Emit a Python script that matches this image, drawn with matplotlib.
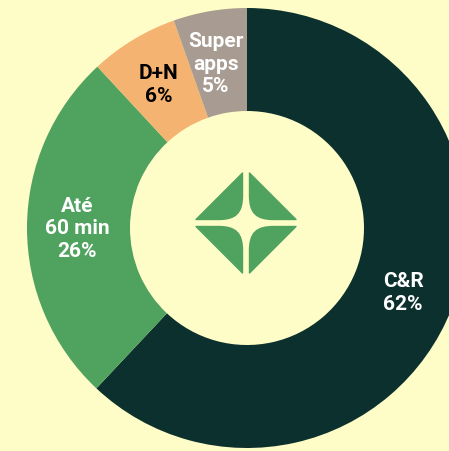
import matplotlib.pyplot as plt
from matplotlib.patches import PathPatch
from matplotlib.path import Path

# values, labels as printed
segments = ["C&R", "Até 60 min", "D+N", "Super apps"]
values = [62.0, 26.1, 6.5, 5.4]
colors = ["#0C302D", "#50A25F", "#F4B370", "#A89B91"]
labels = ["C&R\n62%", "Até\n60 min\n26%", "D+N\n6%", "Super\napps\n5%"]
label_colors = ["white", "white", "black", "white"]
label_x = [403, 77, 159, 216]
label_y = [293, 229, 85, 64]

bg = "#FFFDC7"
H = 451

fig = plt.figure(figsize=(4.49, 4.51), dpi=100, facecolor=bg)
ax = fig.add_axes([0, 0, 1, 1])

ax.pie(values, colors=colors, startangle=90, counterclock=False, radius=220,
       center=(247, H - 228), wedgeprops={"width": 103, "linewidth": 0})

for t, c, x, y in zip(labels, label_colors, label_x, label_y):
    ax.text(x, H - y, t, color=c, ha="center", va="center", fontsize=15,
            fontweight="bold", family="Roboto", linespacing=1.22)

# logo in the middle, one quadrant mirrored four times
cx, cy = 246, H - 223
for sx, sy in [(1, 1), (-1, 1), (1, -1), (-1, -1)]:
    pts = [(3.5, 50), (3.5, 28), (3.5, 10), (10, 3.5), (28, 3.5), (50, 3.5), (3.5, 50)]
    codes = [Path.MOVETO, Path.LINETO, Path.CURVE4, Path.CURVE4, Path.CURVE4, Path.LINETO, Path.CLOSEPOLY]
    verts = [(cx + sx * px, cy + sy * py) for px, py in pts]
    ax.add_patch(PathPatch(Path(verts, codes), fc="#50A25F", ec="#50A25F", lw=1, joinstyle="round"))

ax.set_xlim(0, 449)
ax.set_ylim(0, H)
ax.set_aspect("equal")
ax.axis("off")

fig.savefig("out.png", dpi=100, facecolor=bg)
